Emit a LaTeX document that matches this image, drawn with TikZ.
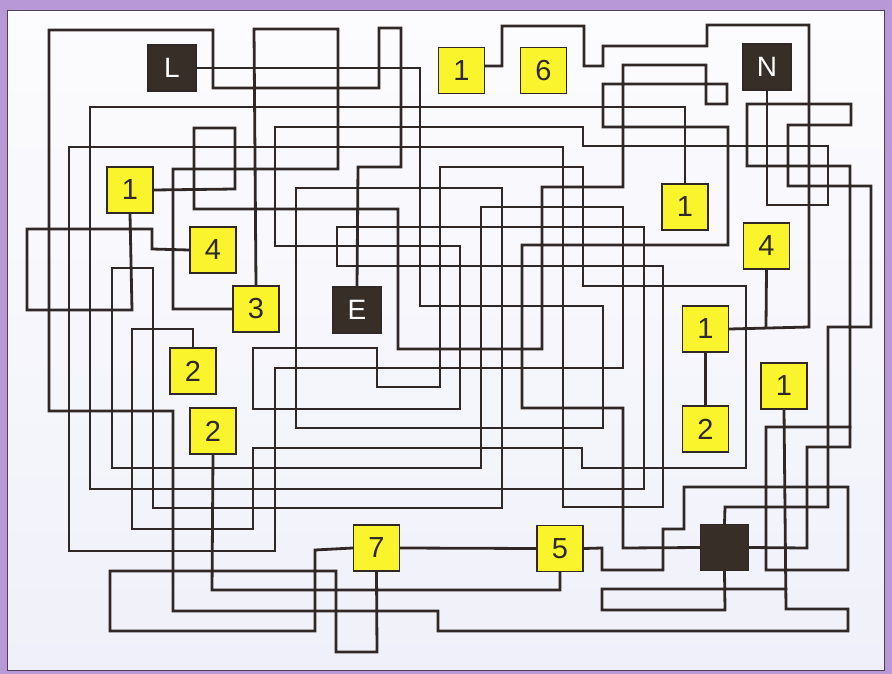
\documentclass[tikz,border=0pt]{standalone}
\usepackage{fontspec}
\setmainfont{Liberation Sans}
\definecolor{linec}{RGB}{48,40,38}
\definecolor{darkb}{RGB}{56,46,40}
\definecolor{yel}{RGB}{250,244,45}
\definecolor{purp}{RGB}{184,152,214}
\definecolor{paneltop}{RGB}{252,252,254}
\definecolor{panelbot}{RGB}{240,240,250}
\definecolor{edgec}{RGB}{80,64,84}
\begin{document}
\begin{tikzpicture}[x=1pt,y=-1pt,
  wire/.style={draw=linec, line width=2.8pt, line cap=rect, line join=miter},
  ybox/.style={draw=linec, line width=1.6pt, fill=yel, minimum width=46pt, minimum height=46pt, inner sep=0pt, font=\fontsize{29}{29}\selectfont, text=linec},
  dbox/.style={draw=linec, line width=1.2pt, fill=darkb, minimum width=48pt, minimum height=46pt, inner sep=0pt, font=\fontsize{28}{28}\selectfont, text=white}]
\fill[purp] (0,0) rectangle (892,674);
\useasboundingbox (0,0) rectangle (892,674);
\shade[top color=paneltop, bottom color=panelbot] (7,11) rectangle (884,670);
\draw[draw=edgec, line width=1pt] (7,11) rectangle (884,670);

% boxes (placed first so anchors exist, redrawn on top later)
\node[dbox] (L) at (172,68) {L};
\node[ybox] (one1) at (461.5,70.5) {1};
\node[ybox] (six) at (543.5,70.5) {6};
\node[dbox] (N) at (767,67) {N};
\node[ybox] (oneA) at (130,190) {1};
\node[ybox] (fourA) at (213,250) {4};
\node[ybox] (three) at (256,309) {3};
\node[ybox] (twoA) at (193,371) {2};
\node[ybox] (twoB) at (213,431) {2};
\node[dbox] (E) at (357,310) {E};
\node[ybox] (oneB) at (685,207) {1};
\node[ybox] (fourB) at (766.5,246) {4};
\node[ybox] (oneC) at (705.5,329) {1};
\node[ybox] (twoC) at (705.5,429) {2};
\node[ybox] (oneD) at (784,386) {1};
\node[ybox] (seven) at (376.5,548) {7};
\node[ybox] (five) at (560,548.5) {5};
\node[dbox] (dark) at (724.5,547.5) {};

% wires
\draw[wire] (L.east) -- (420,68) -- (420,306) -- (603,306) -- (603,428) -- (296,428) -- (296,188) -- (502,188) -- (502,508) -- (153,508) -- (153,268) -- (112,268) -- (112,468) -- (481,468) -- (481,207) -- (623,207) -- (623,368) -- (275,368) -- (275,551) -- (69,551) -- (69,147) -- (563,147) -- (563,507) -- (663,507) -- (663,266) -- (337,266) -- (337,227) -- (644,227) -- (644,489) -- (90,489) -- (90,107) -- (685,107) -- (oneB.north);

\draw[wire] (N.south) -- (767,205) -- (828,205) -- (828,146) -- (583,146) -- (583,127) -- (275,127) -- (275,246) -- (460,246) -- (460,409) -- (253,409) -- (253,348) -- (377,348) -- (377,387) -- (440,387) -- (440,167) -- (583,167) -- (583,286) -- (746,286) -- (746,468) -- (582,468) -- (582,448) -- (253,448) -- (253,529) -- (132,529) -- (132,329) -- (193,329) -- (twoA.north);

\draw[wire] (E.north) -- (358,167) -- (401,167) -- (401,28) -- (379,28) -- (379,88) -- (213,88) -- (213,30) -- (49,30) -- (49,411) -- (173,411) -- (173,611) -- (438,611) -- (438,631) -- (848,631) -- (848,609) -- (786,609) -- (oneD.south);

\draw[wire] (fourA.west) -- (152,249) -- (152,229) -- (27,229) -- (27,310) -- (132,310) -- (oneA.south);

\draw[wire] (oneA.east) -- (235,189) -- (235,128) -- (194,128) -- (194,209) -- (398,209) -- (398,349) -- (542,349) -- (542,187) -- (623,187) -- (623,65) -- (706,65) -- (706,104) -- (727,104) -- (727,84) -- (603,84) -- (603,127) -- (728,127) -- (728,245) -- (522,245) -- (522,408) -- (623,408) -- (623,548) -- (dark.west);

\draw[wire] (three.west) -- (173,309) -- (173,169) -- (338,169) -- (338,29) -- (254,29) -- (three.north);

\draw[wire] (seven.west) -- (315,550) -- (315,631) -- (110,631) -- (110,571) -- (336,571) -- (336,652) -- (377,652) -- (seven.south);

\draw[wire] (seven.east) -- (five.west);

\draw[wire] (five.east) -- (602,548) -- (602,570) -- (663,570) -- (663,529) -- (684,529) -- (684,487) -- (848,487) -- (848,570) -- (766,570) -- (766,427) -- (850,427) -- (850,166) -- (747,166) -- (747,104) -- (851,104) -- (851,125) -- (788,125) -- (788,186) -- (871,186) -- (871,327) -- (828,327) -- (828,507) -- (725,507) -- (dark.north);

\draw[wire] (dark.east) -- (807,548) -- (807,447) -- (850,447) -- (850,427);

\draw[wire] (dark.south) -- (725,610) -- (602,610) -- (602,589) -- (786,589);

\draw[wire] (five.south) -- (560,590) -- (212,590) -- (twoB.south);

\draw[wire] ([yshift=4.5pt]one1.east) -- (502,66) -- (502,26) -- (584,26) -- (584,66) -- (603,66) -- (603,46) -- (707,46) -- (707,25) -- (809,25) -- (809,327) -- (oneC.east);

\draw[wire] (fourB.south) -- (766,327);
\draw[wire] (oneC.south) -- (twoC.north);

% redraw boxes on top
\foreach \n/\p/\t in {one1/{461.5,70.5}/1, six/{543.5,70.5}/6, oneA/{130,190}/1, fourA/{213,250}/4, three/{256,309}/3, twoA/{193,371}/2, twoB/{213,431}/2, oneB/{685,207}/1, fourB/{766.5,246}/4, oneC/{705.5,329}/1, twoC/{705.5,429}/2, oneD/{784,386}/1, seven/{376.5,548}/7, five/{560,548.5}/5}
  \node[ybox] (\n top) at (\p) {\t};
\node[dbox] (Ltop) at (172,68) {L};
\node[dbox] (Ntop) at (767,67) {N};
\node[dbox] (Etop) at (357,310) {E};
\node[dbox] (darktop) at (724.5,547.5) {};
\end{tikzpicture}
\end{document}
